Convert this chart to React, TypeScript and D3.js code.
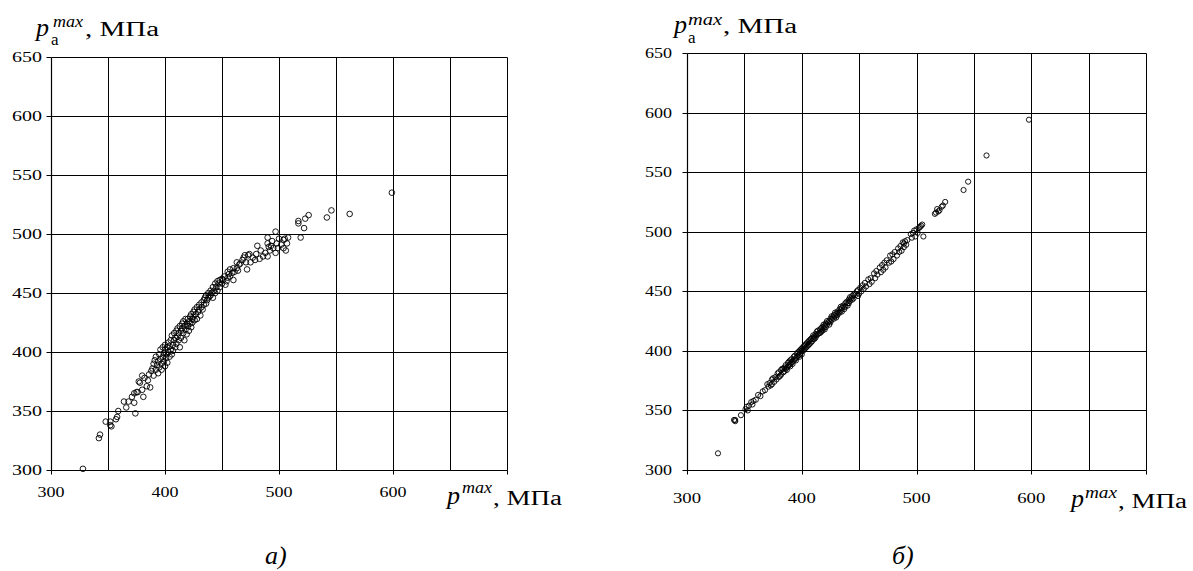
import React from "react";
import * as d3 from "d3";

// Panel а): measured p^max vs p_a^max (approximation, wider scatter)
const pointsA: [number, number][] = [
  [328, 301], [342, 327], [343, 330], [348, 341], [352, 341], [352, 338], [353, 337], [357, 343],
  [358, 345], [359, 350], [364, 358], [366, 353], [368, 358], [371, 362], [373, 357], [374, 348],
  [373, 365], [375, 366], [376, 366], [377, 375], [378, 374], [380, 368], [381, 362], [380, 380],
  [382, 378], [384, 371], [385, 376], [386, 381], [387, 370], [388, 384],
  [389, 386], [390, 380], [390, 390], [391, 393], [392, 385], [392, 396], [393, 389], [394, 382],
  [394, 392], [395, 398], [395, 387], [396, 394], [396, 402], [397, 390], [397, 385], [398, 396],
  [398, 404], [399, 392], [399, 399], [400, 388], [400, 402], [400, 406], [401, 395], [401, 398],
  [402, 404], [402, 391], [403, 400], [403, 408], [404, 396], [404, 405], [405, 410], [405, 402],
  [406, 398], [406, 414], [407, 406], [407, 401], [408, 410], [408, 416], [409, 404], [409, 412],
  [410, 407], [410, 418], [411, 413], [411, 420], [412, 410], [412, 416], [413, 422], [413, 404],
  [414, 418], [414, 412], [415, 424], [415, 420], [416, 416], [416, 426], [417, 410], [417, 422],
  [418, 419], [418, 428], [419, 424], [419, 415], [420, 422], [420, 428], [421, 418], [421, 426],
  [422, 430], [422, 424], [423, 421], [423, 432], [424, 428], [424, 425], [425, 430], [425, 434],
  [426, 427], [426, 436], [427, 432], [428, 438], [428, 428], [429, 434], [430, 436], [430, 440],
  [431, 431], [432, 438], [432, 442], [433, 436], [434, 444], [434, 440], [435, 446], [436, 441],
  [436, 448], [437, 444], [438, 450], [438, 446], [439, 447], [440, 452], [440, 448], [441, 450],
  [442, 455], [442, 446], [443, 452], [444, 458], [444, 450], [445, 455], [446, 460], [446, 452],
  [447, 458], [448, 461], [448, 455], [450, 462], [450, 458], [451, 461], [452, 464], [453, 457],
  [454, 460], [455, 468], [455, 463], [456, 466], [457, 470], [457, 464], [459, 467], [460, 461],
  [460, 471], [461, 468], [463, 476], [463, 471], [464, 469], [465, 474], [466, 475], [468, 478],
  [469, 480], [470, 482], [471, 476], [472, 470], [473, 482], [474, 483], [475, 476], [477, 480],
  [479, 478], [480, 483], [481, 490], [483, 479], [484, 486], [486, 481], [488, 484], [490, 481],
  [490, 492], [490, 497], [491, 489], [492, 486], [493, 490], [494, 494], [495, 488], [497, 484],
  [497, 502], [498, 492], [499, 488], [500, 496], [502, 491], [504, 495], [504, 488], [505, 496],
  [506, 486], [507, 492], [508, 497], [517, 511], [517, 509], [519, 497], [522, 505], [523, 513],
  [526, 516], [542, 514], [546, 520], [562, 517], [599, 535],
];

// Panel б): refined model, tight scatter around the diagonal
const pointsB: [number, number][] = [
  [327, 314], [341, 342], [342, 341], [342, 342], [347, 346], [351, 351], [352, 353], [353, 350],
  [354, 354], [356, 357], [357, 355], [358, 358], [360, 359], [362, 363], [364, 362], [366, 366],
  [368, 367], [370, 372], [371, 370], [372, 373], [373, 371], [374, 376], [374, 372], [375, 377],
  [376, 374], [377, 378], [378, 376], [379, 381], [380, 378], [380, 382], [381, 379], [382, 384],
  [382, 380], [383, 385], [384, 382], [384, 385], [385, 386], [385, 383], [386, 385], [386, 388],
  [387, 386], [387, 384], [388, 390], [388, 387], [389, 388], [389, 391], [390, 389], [390, 392],
  [390, 387], [391, 390], [391, 393], [392, 391], [392, 389], [393, 395], [393, 392], [394, 393],
  [394, 396], [395, 394], [395, 392], [396, 398], [396, 395], [397, 396], [397, 399], [398, 397],
  [398, 400], [398, 395], [399, 401], [399, 398], [400, 400], [400, 402], [400, 397], [401, 403],
  [401, 400], [402, 401], [402, 404], [403, 402], [403, 405], [404, 406], [404, 403], [405, 404],
  [405, 407], [406, 405], [406, 408], [407, 409], [407, 406], [408, 407], [408, 410], [409, 411],
  [409, 408], [410, 410], [410, 413], [411, 410], [411, 412], [412, 414], [412, 411], [413, 413],
  [413, 416], [414, 414], [414, 417], [415, 415], [416, 418], [416, 415], [417, 419], [417, 416],
  [418, 420], [418, 417], [419, 419], [419, 422], [420, 421], [420, 418], [421, 423], [421, 420],
  [422, 422], [422, 425], [423, 424], [424, 425], [424, 422], [425, 427], [425, 424], [426, 426],
  [426, 429], [427, 428], [428, 430], [428, 427], [429, 429], [429, 432], [430, 431], [430, 428],
  [431, 433], [431, 430], [432, 432], [433, 435], [433, 432], [434, 434], [434, 437], [435, 436],
  [435, 433], [436, 438], [437, 437], [437, 435], [438, 440], [438, 437], [439, 441], [440, 440],
  [440, 438], [441, 443], [441, 440], [442, 442], [442, 445], [443, 444], [444, 443], [444, 446],
  [445, 447], [445, 444], [446, 448], [447, 447], [448, 450], [449, 446], [449, 451], [450, 448],
  [451, 453], [452, 450], [453, 455], [454, 452], [455, 457], [456, 454], [458, 460], [459, 456],
  [460, 461], [461, 458], [463, 465], [464, 461], [465, 467], [466, 464], [468, 470], [469, 466],
  [470, 472], [471, 468], [472, 474], [473, 470], [474, 476], [476, 474], [477, 480], [478, 475],
  [479, 481], [480, 477], [481, 483], [483, 480], [484, 486], [485, 483], [486, 488], [487, 484],
  [488, 491], [489, 487], [489, 490], [490, 492], [491, 489], [492, 493], [495, 498], [496, 495],
  [497, 499], [498, 501], [499, 496], [500, 502], [501, 499], [502, 503], [503, 504], [504, 505],
  [505, 506], [506, 496], [516, 515], [517, 516], [518, 519], [519, 517], [520, 518], [522, 521],
  [523, 522], [525, 525], [541, 535], [545, 542], [561, 564], [598, 594],
];

const xDomain: [number, number] = [300, 700];
const yDomain: [number, number] = [300, 650];
const gridStep = 50;
const xTickLabels = [300, 400, 500, 600];
const xTickMarks = [300, 400, 500, 600, 700];
const yTickLabels = [300, 350, 400, 450, 500, 550, 600, 650];
const captions = ["а)", "б)"];

const FONT = "'Liberation Serif', 'Times New Roman', serif";

type PanelProps = {
  points: [number, number][];
  left: number;
  right: number;
  top: number;
  bottom: number;
  r: number;
  yLabelRight: number;
  yLabelWidth: number;
  xLabelBase: number;
  xLabelWidth: number;
};

function Panel(p: PanelProps) {
  const x = d3.scaleLinear().domain(xDomain).range([p.left, p.right]);
  const y = d3.scaleLinear().domain(yDomain).range([p.bottom, p.top]);
  const grid = d3.range(xDomain[0] + gridStep, xDomain[1], gridStep);
  const gridY = d3.range(yDomain[0] + gridStep, yDomain[1] + 1, gridStep);
  const c = (v: number) => Math.round(v) + 0.5;
  return (
    <g>
      {grid.map((v) => (
        <line key={"gx" + v} x1={c(x(v))} x2={c(x(v))} y1={c(y(yDomain[1]))} y2={c(y(yDomain[0]))} stroke="#000" strokeWidth={1} />
      ))}
      {gridY.map((v) => (
        <line key={"gy" + v} x1={c(x(xDomain[0]))} x2={c(x(xDomain[1]))} y1={c(y(v))} y2={c(y(v))} stroke="#000" strokeWidth={1} />
      ))}
      {/* frame: left axis, bottom axis, right border */}
      <line x1={c(x(xDomain[0]))} x2={c(x(xDomain[0]))} y1={c(y(yDomain[1]))} y2={c(y(yDomain[0]))} stroke="#000" strokeWidth={1.2} />
      <line x1={c(x(xDomain[0]))} x2={c(x(xDomain[1]))} y1={c(y(yDomain[0]))} y2={c(y(yDomain[0]))} stroke="#000" strokeWidth={1.2} />
      <line x1={c(x(xDomain[1]))} x2={c(x(xDomain[1]))} y1={c(y(yDomain[1]))} y2={c(y(yDomain[0]))} stroke="#000" strokeWidth={1} />
      {xTickMarks.map((v) => (
        <line key={"tx" + v} x1={c(x(v))} x2={c(x(v))} y1={c(y(yDomain[0]))} y2={c(y(yDomain[0])) + 4} stroke="#000" strokeWidth={1} />
      ))}
      {yTickLabels.map((v) => (
        <line key={"ty" + v} x1={c(x(xDomain[0])) - 5} x2={c(x(xDomain[0]))} y1={c(y(v))} y2={c(y(v))} stroke="#000" strokeWidth={1} />
      ))}
      {yTickLabels.map((v) => (
        <text
          key={"ly" + v}
          x={p.yLabelRight - p.yLabelWidth}
          y={y(v) + 5}
          fontFamily={FONT}
          fontSize={15}
          textLength={p.yLabelWidth}
          lengthAdjust="spacingAndGlyphs"
        >
          {v}
        </text>
      ))}
      {xTickLabels.map((v) => (
        <text
          key={"lx" + v}
          x={x(v) - p.xLabelWidth / 2}
          y={p.xLabelBase}
          fontFamily={FONT}
          fontSize={15}
          textLength={p.xLabelWidth}
          lengthAdjust="spacingAndGlyphs"
        >
          {v}
        </text>
      ))}
      {p.points.map(([px, py], i) => (
        <circle key={i} cx={x(px)} cy={y(py)} r={p.r} fill="none" stroke="#000" strokeWidth={0.9} />
      ))}
    </g>
  );
}

type TitleProps = { x: number; y: number; supX: number; supY: number; supW: number; restX: number; restY: number; restW: number; subX?: number; subY?: number };

function Title(t: TitleProps) {
  return (
    <g fontFamily={FONT} fill="#000">
      <text x={t.x} y={t.y} fontSize={26} fontStyle="italic">p</text>
      <text x={t.supX} y={t.supY} fontSize={16} fontStyle="italic" textLength={t.supW} lengthAdjust="spacingAndGlyphs">max</text>
      {t.subX !== undefined && (
        <text x={t.subX} y={t.subY} fontSize={17}>а</text>
      )}
      <text x={t.restX} y={t.restY} fontSize={20} textLength={t.restW} lengthAdjust="spacingAndGlyphs">, МПа</text>
    </g>
  );
}

export default function App() {
  return (
    <svg width={1193} height={571} style={{ position: "absolute", left: 0, top: 0, background: "#fff" }}>
      <rect width={1193} height={571} fill="#fff" />
      <Panel points={pointsA} left={51} right={507} top={57} bottom={470} r={2.8}
        yLabelRight={42} yLabelWidth={30} xLabelBase={497} xLabelWidth={27} />
      <Panel points={pointsB} left={687} right={1146} top={53} bottom={470} r={2.6}
        yLabelRight={672} yLabelWidth={27} xLabelBase={503} xLabelWidth={28} />

      <Title x={36} y={36} supX={53} supY={27} supW={30} subX={51} subY={45} restX={85} restY={36} restW={74} />
      <Title x={674} y={33} supX={688} supY={25} supW={34} subX={688} subY={43} restX={723} restY={33} restW={74} />
      <Title x={447} y={504} supX={462} supY={493} supW={30} restX={493} restY={505} restW={69} />
      <Title x={1071} y={507} supX={1085} supY={498} supW={32} restX={1118} restY={508} restW={69} />

      <text x={265} y={564} fontFamily={FONT} fontSize={26} fontStyle="italic">{captions[0]}</text>
      <text x={892} y={564} fontFamily={FONT} fontSize={26} fontStyle="italic">{captions[1]}</text>
    </svg>
  );
}
